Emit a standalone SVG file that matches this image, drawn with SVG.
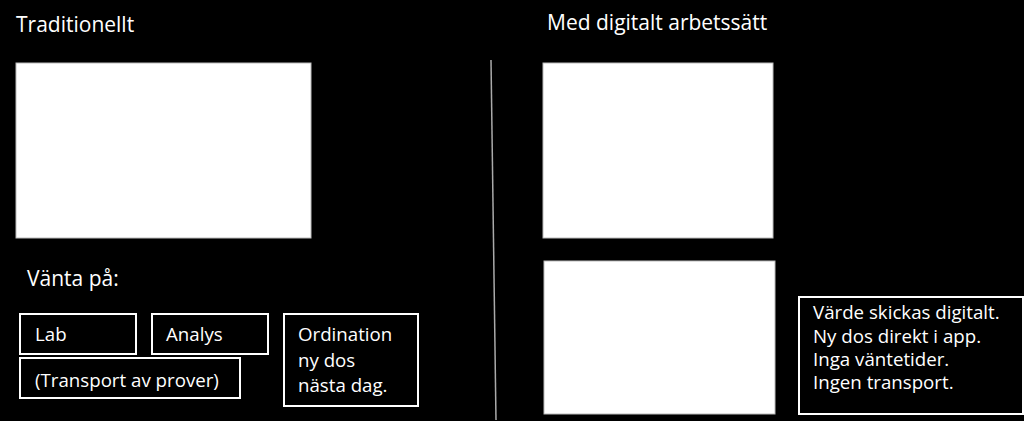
<svg xmlns="http://www.w3.org/2000/svg" width="1024" height="421" viewBox="0 0 1024 421">
<style>
text{font-family:"Open Sans","Liberation Sans",sans-serif;fill:#fff}
.t{font-size:21px}
.s{font-size:18.7px}
.img{fill:#fff;stroke:#bbb;stroke-width:1}
.box{fill:none;stroke:#fff;stroke-width:2}
</style>
<rect width="1024" height="421" fill="#000"/>
<g id="title-left"><text class="t" x="16" y="32">Traditionellt</text></g>
<g id="title-right"><text class="t" x="547" y="30">Med digitalt arbetssätt</text></g>
<g id="divider"><line x1="491" y1="60" x2="496" y2="420" stroke="#aaa" stroke-width="1.5"/></g>
<g id="img-left"><rect class="img" x="16" y="63" width="295" height="175"/></g>
<g id="img-right-top"><rect class="img" x="543" y="63" width="230" height="175"/></g>
<g id="img-right-bottom"><rect class="img" x="544" y="261" width="231" height="153"/></g>
<g id="vanta"><text class="t" x="27" y="286">Vänta på:</text></g>
<g id="lab"><rect class="box" x="20" y="314" width="116" height="40"/><text class="s" x="35" y="341">Lab</text></g>
<g id="analys"><rect class="box" x="152" y="314" width="116" height="40"/><text class="s" x="166" y="341">Analys</text></g>
<g id="transport"><rect class="box" x="20" y="358" width="220" height="40"/><text class="s" x="35" y="387">(Transport av prover)</text></g>
<g id="ordination"><rect class="box" x="284" y="314" width="134" height="92"/><text class="s" x="298" y="341">Ordination</text><text class="s" x="298" y="367">ny dos</text><text class="s" x="298" y="392">nästa dag.</text></g>
<g id="digital"><rect class="box" x="799" y="297" width="224" height="117"/><text class="s" x="813" y="319">Värde skickas digitalt.</text><text class="s" x="813" y="343">Ny dos direkt i app.</text><text class="s" x="813" y="366">Inga väntetider.</text><text class="s" x="813" y="389">Ingen transport.</text></g>
<g id="connectors"/>
</svg>
